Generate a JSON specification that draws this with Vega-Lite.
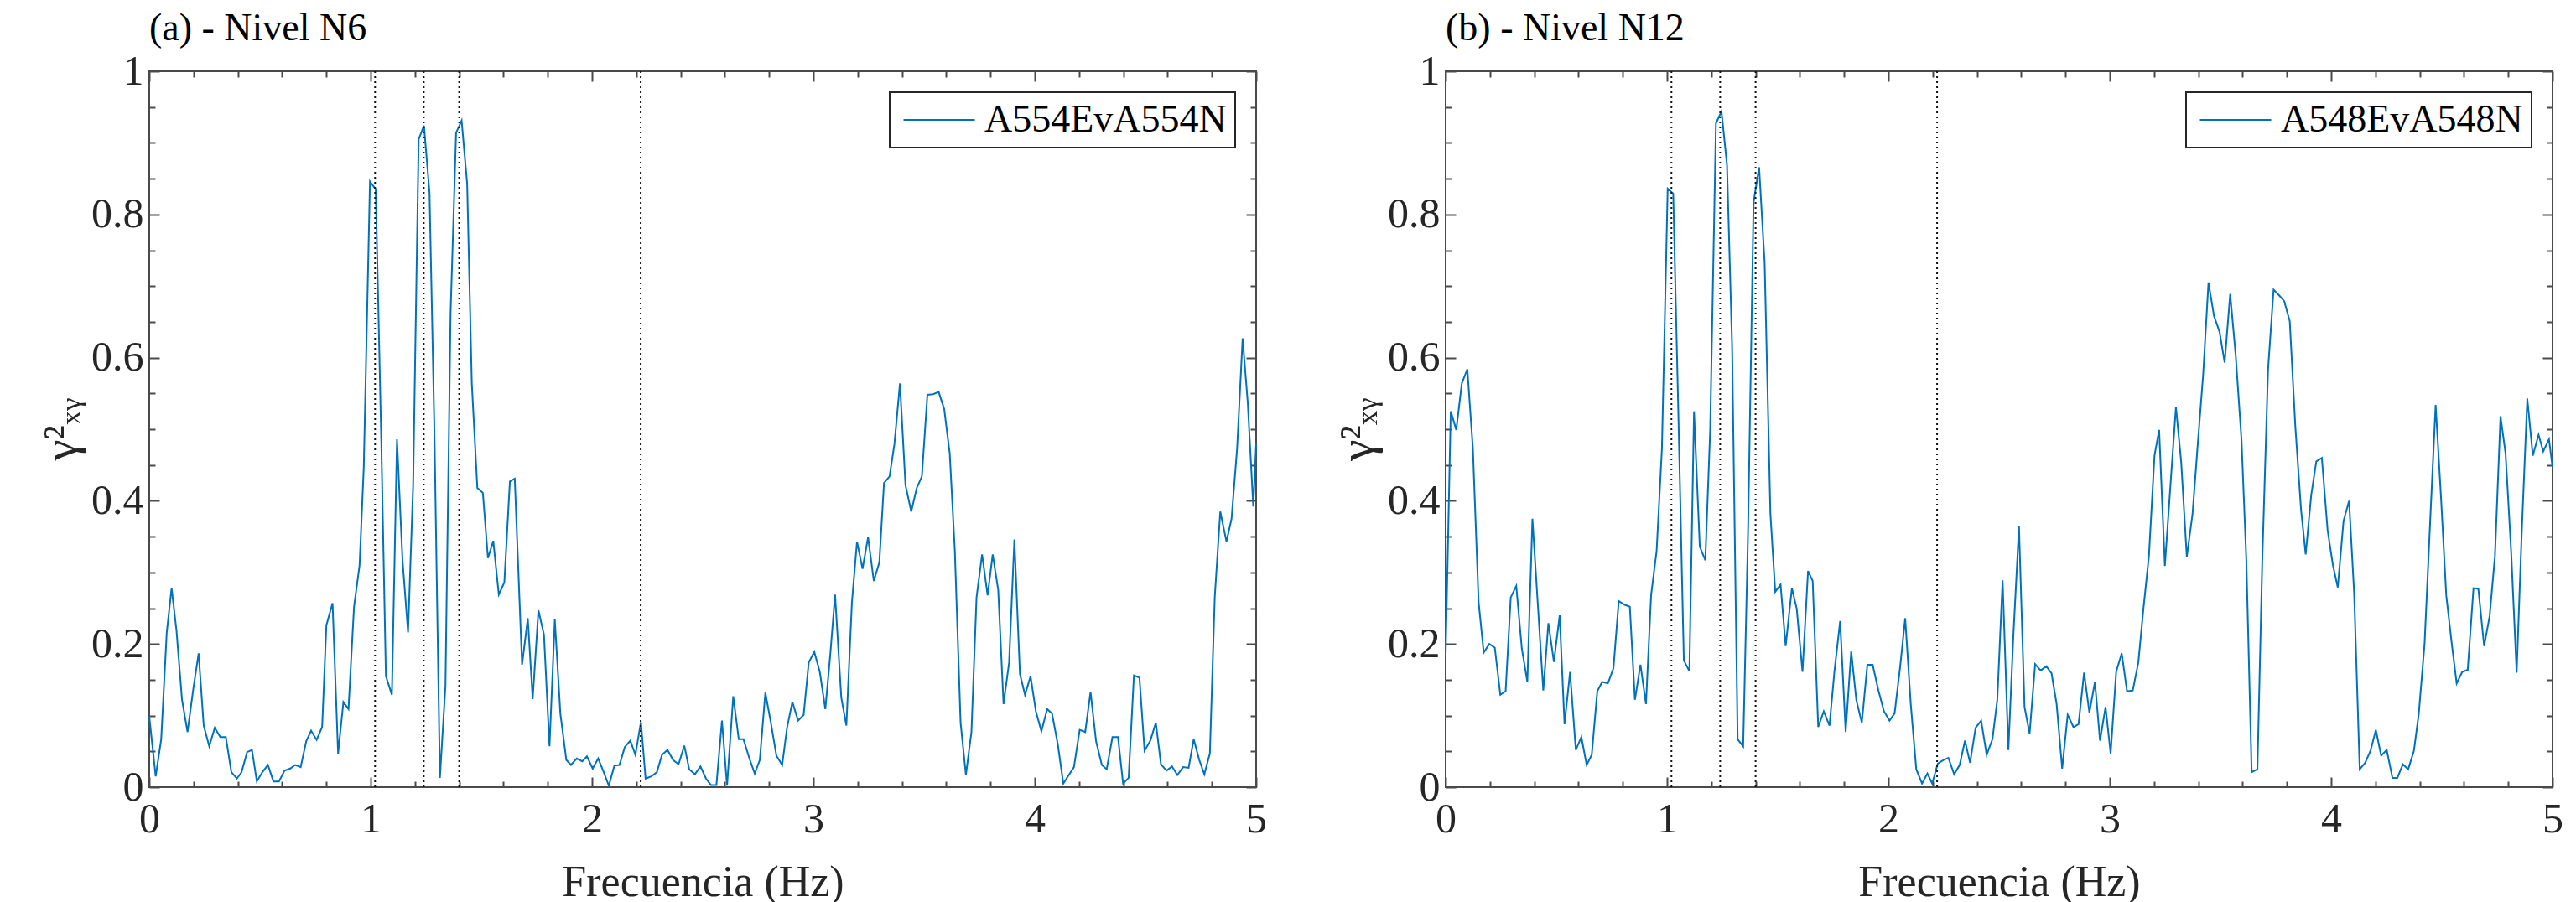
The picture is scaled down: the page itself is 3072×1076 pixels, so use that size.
{
  "$schema": "https://vega.github.io/schema/vega-lite/v6.json",
  "background": "white",
  "padding": {"left": 43, "top": 10, "right": 5, "bottom": 5},
  "spacing": 77,
  "datasets": {
    "n6": [
      {"f":0,"g":0.099},{"f":0.029,"g":0.015},{"f":0.054,"g":0.067},{"f":0.079,"g":0.216},{"f":0.101,"g":0.278},{"f":0.123,"g":0.219},{"f":0.148,"g":0.122},{"f":0.173,"g":0.077},{"f":0.198,"g":0.135},{"f":0.223,"g":0.187},{"f":0.246,"g":0.086},{"f":0.271,"g":0.057},{"f":0.296,"g":0.083},{"f":0.321,"g":0.070},{"f":0.346,"g":0.070},{"f":0.371,"g":0.021},{"f":0.396,"g":0.012},{"f":0.417,"g":0.021},{"f":0.442,"g":0.049},{"f":0.464,"g":0.052},{"f":0.486,"g":0.008},{"f":0.511,"g":0.021},{"f":0.536,"g":0.031},{"f":0.561,"g":0.008},{"f":0.586,"g":0.008},{"f":0.611,"g":0.023},{"f":0.637,"g":0.026},{"f":0.659,"g":0.031},{"f":0.684,"g":0.028},{"f":0.709,"g":0.064},{"f":0.731,"g":0.079},{"f":0.756,"g":0.066},{"f":0.781,"g":0.084},{"f":0.800,"g":0.226},{"f":0.828,"g":0.257},{"f":0.853,"g":0.047},{"f":0.877,"g":0.119},{"f":0.900,"g":0.109},{"f":0.925,"g":0.252},{"f":0.950,"g":0.310},{"f":0.969,"g":0.447},{"f":0.997,"g":0.846},{"f":1.023,"g":0.835},{"f":1.048,"g":0.486},{"f":1.069,"g":0.155},{"f":1.096,"g":0.129},{"f":1.119,"g":0.486},{"f":1.144,"g":0.317},{"f":1.169,"g":0.216},{"f":1.192,"g":0.421},{"f":1.217,"g":0.905},{"f":1.241,"g":0.924},{"f":1.266,"g":0.830},{"f":1.288,"g":0.499},{"f":1.313,"g":0.013},{"f":1.338,"g":0.142},{"f":1.361,"g":0.661},{"f":1.386,"g":0.914},{"f":1.411,"g":0.931},{"f":1.436,"g":0.843},{"f":1.457,"g":0.564},{"f":1.482,"g":0.418},{"f":1.507,"g":0.411},{"f":1.530,"g":0.320},{"f":1.554,"g":0.344},{"f":1.579,"g":0.269},{"f":1.604,"g":0.286},{"f":1.629,"g":0.427},{"f":1.651,"g":0.431},{"f":1.684,"g":0.171},{"f":1.710,"g":0.236},{"f":1.732,"g":0.123},{"f":1.758,"g":0.247},{"f":1.783,"g":0.213},{"f":1.808,"g":0.057},{"f":1.832,"g":0.234},{"f":1.857,"g":0.103},{"f":1.884,"g":0.038},{"f":1.905,"g":0.031},{"f":1.931,"g":0.040},{"f":1.956,"g":0.036},{"f":1.977,"g":0.043},{"f":2.003,"g":0.026},{"f":2.028,"g":0.040},{"f":2.053,"g":0.021},{"f":2.076,"g":0.002},{"f":2.101,"g":0.030},{"f":2.124,"g":0.031},{"f":2.148,"g":0.056},{"f":2.173,"g":0.065},{"f":2.196,"g":0.045},{"f":2.221,"g":0.091},{"f":2.242,"g":0.012},{"f":2.268,"g":0.015},{"f":2.293,"g":0.021},{"f":2.316,"g":0.045},{"f":2.341,"g":0.052},{"f":2.366,"g":0.038},{"f":2.391,"g":0.032},{"f":2.417,"g":0.058},{"f":2.439,"g":0.025},{"f":2.465,"g":0.018},{"f":2.490,"g":0.029},{"f":2.515,"g":0.012},{"f":2.537,"g":0.003},{"f":2.562,"g":0.003},{"f":2.587,"g":0.093},{"f":2.610,"g":0.002},{"f":2.638,"g":0.127},{"f":2.663,"g":0.067},{"f":2.684,"g":0.067},{"f":2.710,"g":0.041},{"f":2.735,"g":0.019},{"f":2.758,"g":0.038},{"f":2.783,"g":0.132},{"f":2.808,"g":0.090},{"f":2.833,"g":0.044},{"f":2.859,"g":0.031},{"f":2.881,"g":0.083},{"f":2.905,"g":0.119},{"f":2.931,"g":0.093},{"f":2.956,"g":0.101},{"f":2.979,"g":0.174},{"f":3.004,"g":0.189},{"f":3.029,"g":0.161},{"f":3.054,"g":0.109},{"f":3.076,"g":0.184},{"f":3.098,"g":0.269},{"f":3.126,"g":0.125},{"f":3.149,"g":0.086},{"f":3.174,"g":0.258},{"f":3.197,"g":0.343},{"f":3.222,"g":0.305},{"f":3.247,"g":0.349},{"f":3.273,"g":0.288},{"f":3.298,"g":0.314},{"f":3.319,"g":0.425},{"f":3.344,"g":0.434},{"f":3.366,"g":0.479},{"f":3.391,"g":0.564},{"f":3.416,"g":0.422},{"f":3.442,"g":0.385},{"f":3.467,"g":0.418},{"f":3.490,"g":0.434},{"f":3.515,"g":0.548},{"f":3.541,"g":0.549},{"f":3.566,"g":0.552},{"f":3.591,"g":0.528},{"f":3.616,"g":0.466},{"f":3.639,"g":0.330},{"f":3.665,"g":0.090},{"f":3.689,"g":0.017},{"f":3.714,"g":0.077},{"f":3.737,"g":0.265},{"f":3.762,"g":0.325},{"f":3.787,"g":0.268},{"f":3.810,"g":0.325},{"f":3.835,"g":0.275},{"f":3.859,"g":0.116},{"f":3.884,"g":0.174},{"f":3.908,"g":0.346},{"f":3.933,"g":0.158},{"f":3.956,"g":0.129},{"f":3.981,"g":0.155},{"f":4.005,"g":0.106},{"f":4.030,"g":0.078},{"f":4.056,"g":0.109},{"f":4.078,"g":0.103},{"f":4.104,"g":0.060},{"f":4.129,"g":0.005},{"f":4.154,"g":0.017},{"f":4.177,"g":0.028},{"f":4.203,"g":0.080},{"f":4.228,"g":0.077},{"f":4.252,"g":0.133},{"f":4.277,"g":0.064},{"f":4.303,"g":0.031},{"f":4.325,"g":0.025},{"f":4.351,"g":0.070},{"f":4.376,"g":0.070},{"f":4.399,"g":0.005},{"f":4.424,"g":0.013},{"f":4.448,"g":0.156},{"f":4.473,"g":0.153},{"f":4.496,"g":0.051},{"f":4.522,"g":0.065},{"f":4.547,"g":0.090},{"f":4.570,"g":0.032},{"f":4.595,"g":0.023},{"f":4.620,"g":0.029},{"f":4.644,"g":0.017},{"f":4.670,"g":0.028},{"f":4.695,"g":0.027},{"f":4.718,"g":0.067},{"f":4.743,"g":0.038},{"f":4.766,"g":0.018},{"f":4.791,"g":0.047},{"f":4.813,"g":0.265},{"f":4.838,"g":0.385},{"f":4.866,"g":0.343},{"f":4.889,"g":0.375},{"f":4.914,"g":0.473},{"f":4.939,"g":0.627},{"f":4.962,"g":0.538},{"f":4.987,"g":0.392},{"f":5.0,"g":0.479}
    ],
    "n12": [
      {"f":0,"g":0.184},{"f":0.023,"g":0.525},{"f":0.048,"g":0.499},{"f":0.073,"g":0.564},{"f":0.098,"g":0.584},{"f":0.123,"g":0.473},{"f":0.149,"g":0.258},{"f":0.172,"g":0.188},{"f":0.197,"g":0.200},{"f":0.222,"g":0.195},{"f":0.247,"g":0.129},{"f":0.271,"g":0.134},{"f":0.294,"g":0.265},{"f":0.319,"g":0.281},{"f":0.344,"g":0.194},{"f":0.369,"g":0.147},{"f":0.392,"g":0.375},{"f":0.417,"g":0.252},{"f":0.441,"g":0.135},{"f":0.464,"g":0.229},{"f":0.489,"g":0.175},{"f":0.515,"g":0.240},{"f":0.537,"g":0.088},{"f":0.562,"g":0.161},{"f":0.588,"g":0.052},{"f":0.613,"g":0.070},{"f":0.637,"g":0.031},{"f":0.660,"g":0.045},{"f":0.685,"g":0.134},{"f":0.707,"g":0.147},{"f":0.733,"g":0.145},{"f":0.758,"g":0.166},{"f":0.782,"g":0.260},{"f":0.807,"g":0.255},{"f":0.832,"g":0.252},{"f":0.855,"g":0.122},{"f":0.880,"g":0.171},{"f":0.905,"g":0.116},{"f":0.928,"g":0.268},{"f":0.953,"g":0.330},{"f":0.977,"g":0.473},{"f":1.003,"g":0.836},{"f":1.028,"g":0.829},{"f":1.050,"g":0.538},{"f":1.076,"g":0.177},{"f":1.101,"g":0.162},{"f":1.122,"g":0.525},{"f":1.148,"g":0.336},{"f":1.173,"g":0.317},{"f":1.195,"g":0.499},{"f":1.221,"g":0.927},{"f":1.246,"g":0.944},{"f":1.271,"g":0.869},{"f":1.294,"g":0.616},{"f":1.319,"g":0.067},{"f":1.344,"g":0.057},{"f":1.366,"g":0.356},{"f":1.391,"g":0.817},{"f":1.416,"g":0.866},{"f":1.441,"g":0.732},{"f":1.467,"g":0.382},{"f":1.489,"g":0.273},{"f":1.513,"g":0.283},{"f":1.536,"g":0.197},{"f":1.564,"g":0.278},{"f":1.586,"g":0.249},{"f":1.612,"g":0.161},{"f":1.637,"g":0.302},{"f":1.658,"g":0.288},{"f":1.683,"g":0.084},{"f":1.708,"g":0.106},{"f":1.734,"g":0.086},{"f":1.756,"g":0.161},{"f":1.782,"g":0.232},{"f":1.807,"g":0.077},{"f":1.832,"g":0.190},{"f":1.855,"g":0.122},{"f":1.880,"g":0.090},{"f":1.905,"g":0.171},{"f":1.929,"g":0.171},{"f":1.955,"g":0.135},{"f":1.980,"g":0.106},{"f":2.005,"g":0.093},{"f":2.028,"g":0.103},{"f":2.053,"g":0.168},{"f":2.076,"g":0.236},{"f":2.101,"g":0.116},{"f":2.126,"g":0.025},{"f":2.152,"g":0.005},{"f":2.176,"g":0.019},{"f":2.198,"g":0.005},{"f":2.223,"g":0.033},{"f":2.249,"g":0.038},{"f":2.271,"g":0.041},{"f":2.297,"g":0.018},{"f":2.322,"g":0.031},{"f":2.346,"g":0.065},{"f":2.369,"g":0.034},{"f":2.394,"g":0.083},{"f":2.419,"g":0.093},{"f":2.444,"g":0.045},{"f":2.470,"g":0.067},{"f":2.492,"g":0.122},{"f":2.516,"g":0.289},{"f":2.542,"g":0.052},{"f":2.564,"g":0.208},{"f":2.590,"g":0.364},{"f":2.615,"g":0.112},{"f":2.638,"g":0.075},{"f":2.663,"g":0.172},{"f":2.688,"g":0.163},{"f":2.713,"g":0.169},{"f":2.737,"g":0.159},{"f":2.760,"g":0.116},{"f":2.785,"g":0.026},{"f":2.810,"g":0.101},{"f":2.836,"g":0.084},{"f":2.859,"g":0.088},{"f":2.884,"g":0.160},{"f":2.908,"g":0.104},{"f":2.933,"g":0.147},{"f":2.956,"g":0.065},{"f":2.981,"g":0.112},{"f":3.004,"g":0.047},{"f":3.029,"g":0.161},{"f":3.054,"g":0.187},{"f":3.078,"g":0.134},{"f":3.104,"g":0.135},{"f":3.129,"g":0.174},{"f":3.152,"g":0.249},{"f":3.177,"g":0.323},{"f":3.202,"g":0.463},{"f":3.223,"g":0.499},{"f":3.249,"g":0.309},{"f":3.274,"g":0.421},{"f":3.299,"g":0.531},{"f":3.323,"g":0.453},{"f":3.348,"g":0.322},{"f":3.374,"g":0.382},{"f":3.396,"g":0.473},{"f":3.422,"g":0.577},{"f":3.446,"g":0.705},{"f":3.471,"g":0.658},{"f":3.496,"g":0.636},{"f":3.519,"g":0.593},{"f":3.544,"g":0.689},{"f":3.569,"g":0.603},{"f":3.595,"g":0.486},{"f":3.617,"g":0.317},{"f":3.641,"g":0.021},{"f":3.667,"g":0.025},{"f":3.689,"g":0.317},{"f":3.715,"g":0.583},{"f":3.740,"g":0.695},{"f":3.765,"g":0.687},{"f":3.788,"g":0.679},{"f":3.813,"g":0.651},{"f":3.838,"g":0.505},{"f":3.864,"g":0.388},{"f":3.885,"g":0.325},{"f":3.910,"g":0.408},{"f":3.933,"g":0.455},{"f":3.958,"g":0.460},{"f":3.984,"g":0.359},{"f":4.008,"g":0.310},{"f":4.030,"g":0.279},{"f":4.056,"g":0.372},{"f":4.081,"g":0.400},{"f":4.104,"g":0.271},{"f":4.129,"g":0.025},{"f":4.154,"g":0.034},{"f":4.178,"g":0.051},{"f":4.202,"g":0.080},{"f":4.226,"g":0.044},{"f":4.251,"g":0.052},{"f":4.277,"g":0.013},{"f":4.299,"g":0.013},{"f":4.324,"g":0.032},{"f":4.348,"g":0.025},{"f":4.374,"g":0.051},{"f":4.396,"g":0.103},{"f":4.422,"g":0.200},{"f":4.447,"g":0.369},{"f":4.472,"g":0.534},{"f":4.497,"g":0.401},{"f":4.520,"g":0.268},{"f":4.545,"g":0.200},{"f":4.567,"g":0.145},{"f":4.592,"g":0.161},{"f":4.617,"g":0.164},{"f":4.643,"g":0.278},{"f":4.665,"g":0.277},{"f":4.691,"g":0.197},{"f":4.716,"g":0.239},{"f":4.740,"g":0.323},{"f":4.765,"g":0.518},{"f":4.788,"g":0.466},{"f":4.813,"g":0.330},{"f":4.838,"g":0.160},{"f":4.861,"g":0.356},{"f":4.886,"g":0.543},{"f":4.911,"g":0.463},{"f":4.937,"g":0.492},{"f":4.958,"g":0.469},{"f":4.984,"g":0.486},{"f":5.0,"g":0.447}
    ],
    "vl": [{"f":1.02},{"f":1.24},{"f":1.40},{"f":2.22}]
  },
  "hconcat": [
    {
      "width": 1320, "height": 854,
      "title": {"text": "(a) - Nivel N6"},
      "layer": [
        {
          "data": {"name": "n6"},
          "mark": {"type": "line", "strokeWidth": 2},
          "encoding": {
            "x": {"field": "f", "type": "quantitative", "scale": {"domain": [0, 5], "nice": false, "zero": false},
              "axis": {"orient": "bottom", "title": "Frecuencia (Hz)", "values": [0,0.2,0.4,0.6,0.8,1,1.2,1.4,1.6,1.8,2,2.2,2.4,2.6,2.8,3,3.2,3.4,3.6,3.8,4,4.2,4.4,4.6,4.8,5],
                "labelExpr": "abs(datum.value-round(datum.value))<0.001 ? datum.label : ''",
                "tickSize": {"condition": {"test": "abs(datum.value-round(datum.value))<0.001", "value": -12}, "value": -7},
                "labelPadding": 25, "titlePadding": 20}},
            "y": {"field": "g", "type": "quantitative", "scale": {"domain": [0, 1], "nice": false},
              "axis": {"orient": "left", "title": "γ²ₓᵧ", "titleFontSize": 58, "values": [0,0.05,0.1,0.15,0.2,0.25,0.3,0.35,0.4,0.45,0.5,0.55,0.6,0.65,0.7,0.75,0.8,0.85,0.9,0.95,1],
                "labelExpr": "abs(datum.value*5-round(datum.value*5))<0.001 ? datum.label : ''",
                "tickSize": {"condition": {"test": "abs(datum.value*5-round(datum.value*5))<0.001", "value": -12}, "value": -7},
                "labelPadding": 19, "titlePadding": 6}},
            "color": {"datum": "A554EvA554N", "scale": {"range": ["#0072BD"]}, "legend": {"title": null}}
          }
        },
        {
          "data": {"name": "vl"},
          "mark": {"type": "rule", "strokeDash": [2, 4], "strokeWidth": 2, "color": "#111111"},
          "encoding": {"x": {"field": "f", "type": "quantitative", "axis": null}}
        },
        {
          "data": {"name": "n6"},
          "mark": {"type": "point", "opacity": 0},
          "encoding": {
            "x": {"field": "f", "type": "quantitative",
              "axis": {"orient": "top", "title": null, "labels": false, "values": [0,0.2,0.4,0.6,0.8,1,1.2,1.4,1.6,1.8,2,2.2,2.4,2.6,2.8,3,3.2,3.4,3.6,3.8,4,4.2,4.4,4.6,4.8,5],
                "tickSize": {"condition": {"test": "abs(datum.value-round(datum.value))<0.001", "value": -12}, "value": -7}}},
            "y": {"field": "g", "type": "quantitative",
              "axis": {"orient": "right", "title": null, "labels": false, "values": [0,0.05,0.1,0.15,0.2,0.25,0.3,0.35,0.4,0.45,0.5,0.55,0.6,0.65,0.7,0.75,0.8,0.85,0.9,0.95,1],
                "tickSize": {"condition": {"test": "abs(datum.value*5-round(datum.value*5))<0.001", "value": -12}, "value": -7}}}
          }
        }
      ],
      "resolve": {"axis": {"x": "independent", "y": "independent"}}
    },
    {
      "width": 1320, "height": 854,
      "title": {"text": "(b) - Nivel N12"},
      "layer": [
        {
          "data": {"name": "n12"},
          "mark": {"type": "line", "strokeWidth": 2},
          "encoding": {
            "x": {"field": "f", "type": "quantitative", "scale": {"domain": [0, 5], "nice": false, "zero": false},
              "axis": {"orient": "bottom", "title": "Frecuencia (Hz)", "values": [0,0.2,0.4,0.6,0.8,1,1.2,1.4,1.6,1.8,2,2.2,2.4,2.6,2.8,3,3.2,3.4,3.6,3.8,4,4.2,4.4,4.6,4.8,5],
                "labelExpr": "abs(datum.value-round(datum.value))<0.001 ? datum.label : ''",
                "tickSize": {"condition": {"test": "abs(datum.value-round(datum.value))<0.001", "value": -12}, "value": -7},
                "labelPadding": 25, "titlePadding": 20}},
            "y": {"field": "g", "type": "quantitative", "scale": {"domain": [0, 1], "nice": false},
              "axis": {"orient": "left", "title": "γ²ₓᵧ", "titleFontSize": 58, "values": [0,0.05,0.1,0.15,0.2,0.25,0.3,0.35,0.4,0.45,0.5,0.55,0.6,0.65,0.7,0.75,0.8,0.85,0.9,0.95,1],
                "labelExpr": "abs(datum.value*5-round(datum.value*5))<0.001 ? datum.label : ''",
                "tickSize": {"condition": {"test": "abs(datum.value*5-round(datum.value*5))<0.001", "value": -12}, "value": -7},
                "labelPadding": 19, "titlePadding": 6}},
            "color": {"datum": "A548EvA548N", "scale": {"range": ["#0072BD"]}, "legend": {"title": null}}
          }
        },
        {
          "data": {"name": "vl"},
          "mark": {"type": "rule", "strokeDash": [2, 4], "strokeWidth": 2, "color": "#111111"},
          "encoding": {"x": {"field": "f", "type": "quantitative", "axis": null}}
        },
        {
          "data": {"name": "n12"},
          "mark": {"type": "point", "opacity": 0},
          "encoding": {
            "x": {"field": "f", "type": "quantitative",
              "axis": {"orient": "top", "title": null, "labels": false, "values": [0,0.2,0.4,0.6,0.8,1,1.2,1.4,1.6,1.8,2,2.2,2.4,2.6,2.8,3,3.2,3.4,3.6,3.8,4,4.2,4.4,4.6,4.8,5],
                "tickSize": {"condition": {"test": "abs(datum.value-round(datum.value))<0.001", "value": -12}, "value": -7}}},
            "y": {"field": "g", "type": "quantitative",
              "axis": {"orient": "right", "title": null, "labels": false, "values": [0,0.05,0.1,0.15,0.2,0.25,0.3,0.35,0.4,0.45,0.5,0.55,0.6,0.65,0.7,0.75,0.8,0.85,0.9,0.95,1],
                "tickSize": {"condition": {"test": "abs(datum.value*5-round(datum.value*5))<0.001", "value": -12}, "value": -7}}}
          }
        }
      ],
      "resolve": {"axis": {"x": "independent", "y": "independent"}}
    }
  ],
  "resolve": {"scale": {"color": "independent"}, "legend": {"color": "independent"}},
  "config": {
    "font": "Liberation Serif",
    "view": {"stroke": "#4a4a4a", "strokeWidth": 2},
    "axis": {
      "domain": false, "grid": false, "format": "~g",
      "labelFont": "Liberation Serif", "labelFontSize": 50, "labelColor": "#262626",
      "labelFlush": false, "labelOverlap": false,
      "tickColor": "#4a4a4a", "tickWidth": 2,
      "titleFont": "Liberation Serif", "titleFontSize": 52, "titleFontWeight": "normal", "titleColor": "#262626"
    },
    "title": {"anchor": "start", "frame": "group", "fontSize": 46, "fontWeight": "normal", "font": "Liberation Serif", "color": "#000000", "baseline": "alphabetic", "offset": 2},
    "legend": {
      "orient": "top-right", "offset": 25, "padding": 10, "fillColor": "white", "strokeColor": "#262626", "strokeWidth": 2, "cornerRadius": 0,
      "labelFont": "Liberation Serif", "labelFontSize": 46, "labelColor": "#000000", "labelLimit": 0,
      "symbolType": "M-2.5,0H2.5", "symbolSize": 1156, "symbolStrokeWidth": 2, "symbolOffset": 26, "labelOffset": 31
    }
  }
}
